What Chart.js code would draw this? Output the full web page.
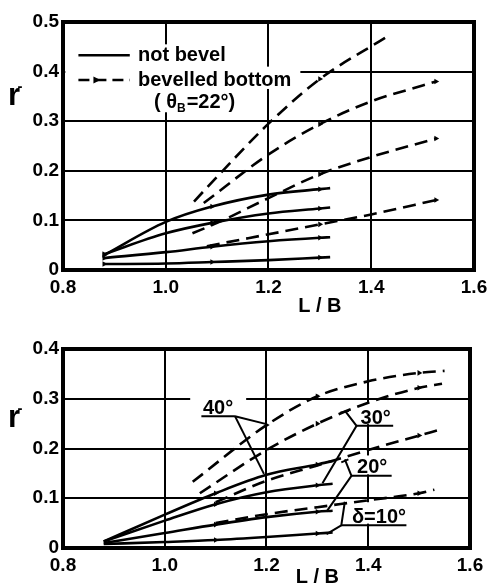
<!DOCTYPE html>
<html><head><meta charset="utf-8">
<script src="https://cdn.jsdelivr.net/npm/chart.js@4.4.0/dist/chart.umd.min.js"></script>
<style>
html,body{margin:0;padding:0;background:#fff;}
#wrap{position:relative;width:487px;height:588px;overflow:hidden;}
canvas{position:absolute;left:0;}
</style></head><body>
<div id="wrap">
<canvas id="cTop" width="487" height="320" style="top:0px"></canvas>
<canvas id="cBot" width="487" height="268" style="top:320px"></canvas>
</div>
<script>
// ---------- tick labels ----------
const xTicks = [0.8, 1.0, 1.2, 1.4, 1.6];
const xTickLabels = ['0.8', '1.0', '1.2', '1.4', '1.6'];
const yTicksTop = [0, 0.1, 0.2, 0.3, 0.4, 0.5];
const yTickLabelsTop = ['0', '0.1', '0.2', '0.3', '0.4', '0.5'];
const yTicksBot = [0, 0.1, 0.2, 0.3, 0.4];
const yTickLabelsBot = ['0', '0.1', '0.2', '0.3', '0.4'];

// ---------- top panel: not bevel (solid) ----------
const topSolidX = [0.88, 1.0, 1.09, 1.2, 1.3, 1.32];
const topSolid1 = [0.030, 0.097, 0.128, 0.152, 0.163, 0.165];
const topSolid2 = [0.032, 0.074, 0.095, 0.114, 0.124, 0.126];
const topSolid3 = [0.024, 0.036, 0.047, 0.058, 0.065, 0.066];
const topSolid4 = [0.012, 0.013, 0.016, 0.020, 0.025, 0.026];
// ---------- top panel: bevelled bottom (dashed) ----------
const topDash1X = [1.055, 1.1, 1.2, 1.3, 1.43];
const topDash1 = [0.138, 0.188, 0.295, 0.385, 0.470];
const topDash2X = [1.074, 1.2, 1.3, 1.4, 1.5, 1.526];
const topDash2 = [0.135, 0.233, 0.294, 0.340, 0.372, 0.380];
const topDash3X = [1.052, 1.1, 1.2, 1.3, 1.4, 1.526];
const topDash3 = [0.074, 0.095, 0.145, 0.193, 0.228, 0.265];
const topDash4X = [1.08, 1.2, 1.3, 1.4, 1.526];
const topDash4 = [0.048, 0.072, 0.092, 0.112, 0.141];

// ---------- bottom panel: solid ----------
const botSolidX = [0.88, 1.0, 1.1, 1.2, 1.3, 1.33];
const botSolid40 = [0.013, 0.067, 0.110, 0.147, 0.168, 0.175];
const botSolid30 = [0.013, 0.055, 0.088, 0.112, 0.126, 0.129];
const botSolid20 = [0.010, 0.030, 0.047, 0.062, 0.073, 0.075];
const botSolid10 = [0.008, 0.012, 0.016, 0.022, 0.029, 0.031];
// ---------- bottom panel: dashed ----------
const botDash40X = [1.055, 1.2, 1.3, 1.4, 1.5, 1.55];
const botDash40 = [0.133, 0.247, 0.305, 0.335, 0.352, 0.356];
const botDash30X = [1.069, 1.2, 1.3, 1.4, 1.5, 1.545];
const botDash30 = [0.110, 0.197, 0.250, 0.292, 0.322, 0.330];
const botDash20X = [1.1, 1.2, 1.3, 1.4, 1.5, 1.535];
const botDash20 = [0.092, 0.135, 0.166, 0.197, 0.226, 0.236];
const botDash10X = [1.1, 1.2, 1.3, 1.4, 1.5, 1.53];
const botDash10 = [0.050, 0.068, 0.082, 0.096, 0.110, 0.117];

// ---------- texts ----------
const legendTexts = ['not bevel', 'bevelled bottom'];
const angleLabels = ['40°', '30°', '20°', 'δ=10°'];

const FONT = '"Liberation Sans", Arial, sans-serif';
const pts = (xs, ys) => xs.map((x, i) => ({x: x, y: ys[i]}));

function ds(xs, ys, dashed, marks) {
  return {
    data: pts(xs, ys),
    borderColor: '#000',
    backgroundColor: '#000',
    borderWidth: 2.6,
    borderDash: dashed ? [13, 7] : [],
    cubicInterpolationMode: 'monotone',
    pointStyle: 'triangle',
    pointRotation: 90,
    pointRadius: c => (marks.indexOf(c.dataIndex) >= 0 ? 3.2 : 0),
    pointBackgroundColor: '#000',
    pointBorderWidth: 0
  };
}

function txt(ctx, s, x, y, size, align, base) {
  ctx.font = 'bold ' + size + 'px ' + FONT;
  ctx.textAlign = align || 'left';
  ctx.textBaseline = base || 'alphabetic';
  ctx.fillStyle = '#000';
  ctx.fillText(s, x, y);
}

function line(ctx, p, w, dash) {
  ctx.save();
  ctx.strokeStyle = '#000';
  ctx.lineWidth = w || 2;
  ctx.setLineDash(dash || []);
  ctx.beginPath();
  ctx.moveTo(p[0][0], p[0][1]);
  for (let i = 1; i < p.length; i++) ctx.lineTo(p[i][0], p[i][1]);
  ctx.stroke();
  ctx.restore();
}

function tri(ctx, x, y) {
  ctx.beginPath();
  ctx.moveTo(x + 4, y); ctx.lineTo(x - 3, y - 3.5); ctx.lineTo(x - 3, y + 3.5); ctx.closePath();
  ctx.fillStyle = '#000'; ctx.fill();
}

const frames = {};

// common plugin: frame, axis titles, extra drawings
const framePlugin = {
  id: 'frameDraw',
  beforeDatasetsDraw(chart) {
    const f = frames[chart.canvas.id];
    const ctx = chart.ctx, X = chart.scales.x, Y = chart.scales.y;
    ctx.save();
    ctx.fillStyle = '#fff';
    f.whiteRects.forEach(r => {
      const x1 = X.getPixelForValue(r[0]), x2 = X.getPixelForValue(r[1]);
      const y1 = Y.getPixelForValue(r[3]), y2 = Y.getPixelForValue(r[2]);
      ctx.fillRect(x1, y1, x2 - x1, y2 - y1);
    });
    ctx.restore();
  },
  afterDatasetsDraw(chart) {
    const f = frames[chart.canvas.id];
    const ctx = chart.ctx, a = chart.chartArea, X = chart.scales.x, Y = chart.scales.y;
    ctx.save();
    ctx.strokeStyle = '#000';
    ctx.lineWidth = 4;
    ctx.strokeRect(a.left, a.top, a.right - a.left, a.bottom - a.top);
    txt(ctx, 'L / B', X.getPixelForValue(1.3), f.xTitleY, 20, 'center', 'middle');
    const ry = Y.getPixelForValue(f.rAt);
    txt(ctx, 'r', 14, ry, 31, 'center', 'middle');
    txt(ctx, '-', 20, ry - 10, 15, 'center', 'middle');
    f.draw(ctx, X, Y);
    ctx.restore();
  }
};

function baseOptions(yTicks, yLabels, yMax, xHeight, pad) {
  return {
    responsive: false,
    animation: false,
    events: [],
    layout: {padding: pad},
    plugins: {legend: {display: false}, tooltip: {enabled: false}},
    scales: {
      x: {
        type: 'linear', min: 0.8, max: 1.6,
        afterBuildTicks: s => { s.ticks = xTicks.map(v => ({value: v})); },
        afterFit: s => { s.height = xHeight; s.paddingLeft = 0; s.paddingRight = 0; },
        ticks: {callback: (v, i) => xTickLabels[i], color: '#000', padding: 6,
                font: {family: FONT, size: 19, weight: 'bold'}, maxRotation: 0},
        grid: {color: '#000', lineWidth: 2, drawTicks: false},
        border: {display: false}
      },
      y: {
        type: 'linear', min: 0, max: yMax,
        afterBuildTicks: s => { s.ticks = yTicks.map(v => ({value: v})); },
        afterFit: s => { s.width = 63; s.paddingTop = 0; s.paddingBottom = 0; },
        ticks: {callback: (v, i) => yLabels[i], color: '#000', padding: 4,
                font: {family: FONT, size: 19, weight: 'bold'}},
        grid: {color: '#000', lineWidth: 2, drawTicks: false},
        border: {display: false}
      }
    }
  };
}

// ---------- top chart ----------
frames.cTop = {
  xTitleY: 306,
  rAt: 0.35,
  whiteRects: [[0.805, 1.19, 0.318, 0.455], [0.805, 1.262, 0.365, 0.41]],
  draw(ctx, X, Y) {
    const x1 = X.getPixelForValue(0.83), x2 = X.getPixelForValue(0.93), xt = X.getPixelForValue(0.946);
    const y1 = Y.getPixelForValue(0.433), y2 = Y.getPixelForValue(0.383), y3 = Y.getPixelForValue(0.337);
    line(ctx, [[x1, y1], [x2, y1]], 2.6);
    txt(ctx, legendTexts[0], xt, y1, 20, 'left', 'middle');
    line(ctx, [[x1, y2], [x2, y2]], 2.6, [11, 6]);
    tri(ctx, x1 + 18, y2);
    txt(ctx, legendTexts[1], xt, y2, 20, 'left', 'middle');
    let xx = X.getPixelForValue(0.977);
    txt(ctx, '( θ', xx, y3, 20, 'left', 'middle');
    ctx.font = 'bold 20px ' + FONT;
    xx += ctx.measureText('( θ').width;
    txt(ctx, 'B', xx, y3 + 6, 12, 'left', 'middle');
    ctx.font = 'bold 12px ' + FONT;
    xx += ctx.measureText('B').width + 1;
    txt(ctx, '=22°)', xx, y3, 20, 'left', 'middle');
  }
};

new Chart(document.getElementById('cTop'), {
  type: 'line',
  data: {datasets: [
    ds(topSolidX, topSolid1, false, [0, 2, 4]),
    ds(topSolidX, topSolid2, false, [0, 2, 4]),
    ds(topSolidX, topSolid3, false, [0, 2, 4]),
    ds(topSolidX, topSolid4, false, [0, 2, 4]),
    ds(topDash1X, topDash1, true, [3]),
    ds(topDash2X, topDash2, true, [2, 5]),
    ds(topDash3X, topDash3, true, [3, 5]),
    ds(topDash4X, topDash4, true, [2, 4])
  ]},
  options: baseOptions(yTicksTop, yTickLabelsTop, 0.5, 50, {top: 22, right: 13, left: 0, bottom: 0}),
  plugins: [framePlugin]
});

// ---------- bottom chart ----------
frames.cBot = {
  xTitleY: 257,
  rAt: 0.26,
  whiteRects: [[1.05, 1.16, 0.268, 0.312], [1.38, 1.445, 0.249, 0.29], [1.372, 1.445, 0.148, 0.186], [1.365, 1.48, 0.049, 0.092]],
  draw(ctx, X, Y) {
    const P = (x, y) => [X.getPixelForValue(x), Y.getPixelForValue(y)];
    let p = P(1.075, 0.27);
    txt(ctx, angleLabels[0], p[0], p[1], 20);
    line(ctx, [P(1.072, 0.265), P(1.138, 0.265)], 2);
    line(ctx, [P(1.138, 0.265), P(1.2, 0.249)], 2);
    line(ctx, [P(1.138, 0.265), P(1.195, 0.149)], 2);
    p = P(1.385, 0.25);
    txt(ctx, angleLabels[1], p[0], p[1], 20);
    line(ctx, [P(1.449, 0.2455), P(1.377, 0.2455)], 2);
    line(ctx, [P(1.354, 0.276), P(1.377, 0.2455), P(1.31, 0.13)], 2);
    line(ctx, [P(1.345, 0.272), P(1.362, 0.276)], 2);
    p = P(1.378, 0.15);
    txt(ctx, angleLabels[2], p[0], p[1], 20);
    line(ctx, [P(1.446, 0.145), P(1.367, 0.145)], 2);
    line(ctx, [P(1.354, 0.178), P(1.367, 0.145), P(1.318, 0.073)], 2);
    line(ctx, [P(1.347, 0.172), P(1.361, 0.178)], 2);
    p = P(1.368, 0.05);
    txt(ctx, angleLabels[3], p[0], p[1], 20);
    line(ctx, [P(1.475, 0.0455), P(1.347, 0.0455)], 2);
    line(ctx, [P(1.354, 0.093), P(1.347, 0.0455), P(1.318, 0.028)], 2);
  }
};

new Chart(document.getElementById('cBot'), {
  type: 'line',
  data: {datasets: [
    ds(botSolidX, botSolid40, false, [2, 4]),
    ds(botSolidX, botSolid30, false, [2, 4]),
    ds(botSolidX, botSolid20, false, [2, 4]),
    ds(botSolidX, botSolid10, false, [2, 4]),
    ds(botDash40X, botDash40, true, [1, 2, 4]),
    ds(botDash30X, botDash30, true, [2, 4]),
    ds(botDash20X, botDash20, true, [4]),
    ds(botDash10X, botDash10, true, [4])
  ]},
  options: baseOptions(yTicksBot, yTickLabelsBot, 0.4, 40, {top: 29, right: 17, left: 0, bottom: 0}),
  plugins: [framePlugin]
});
</script>
</body></html>
